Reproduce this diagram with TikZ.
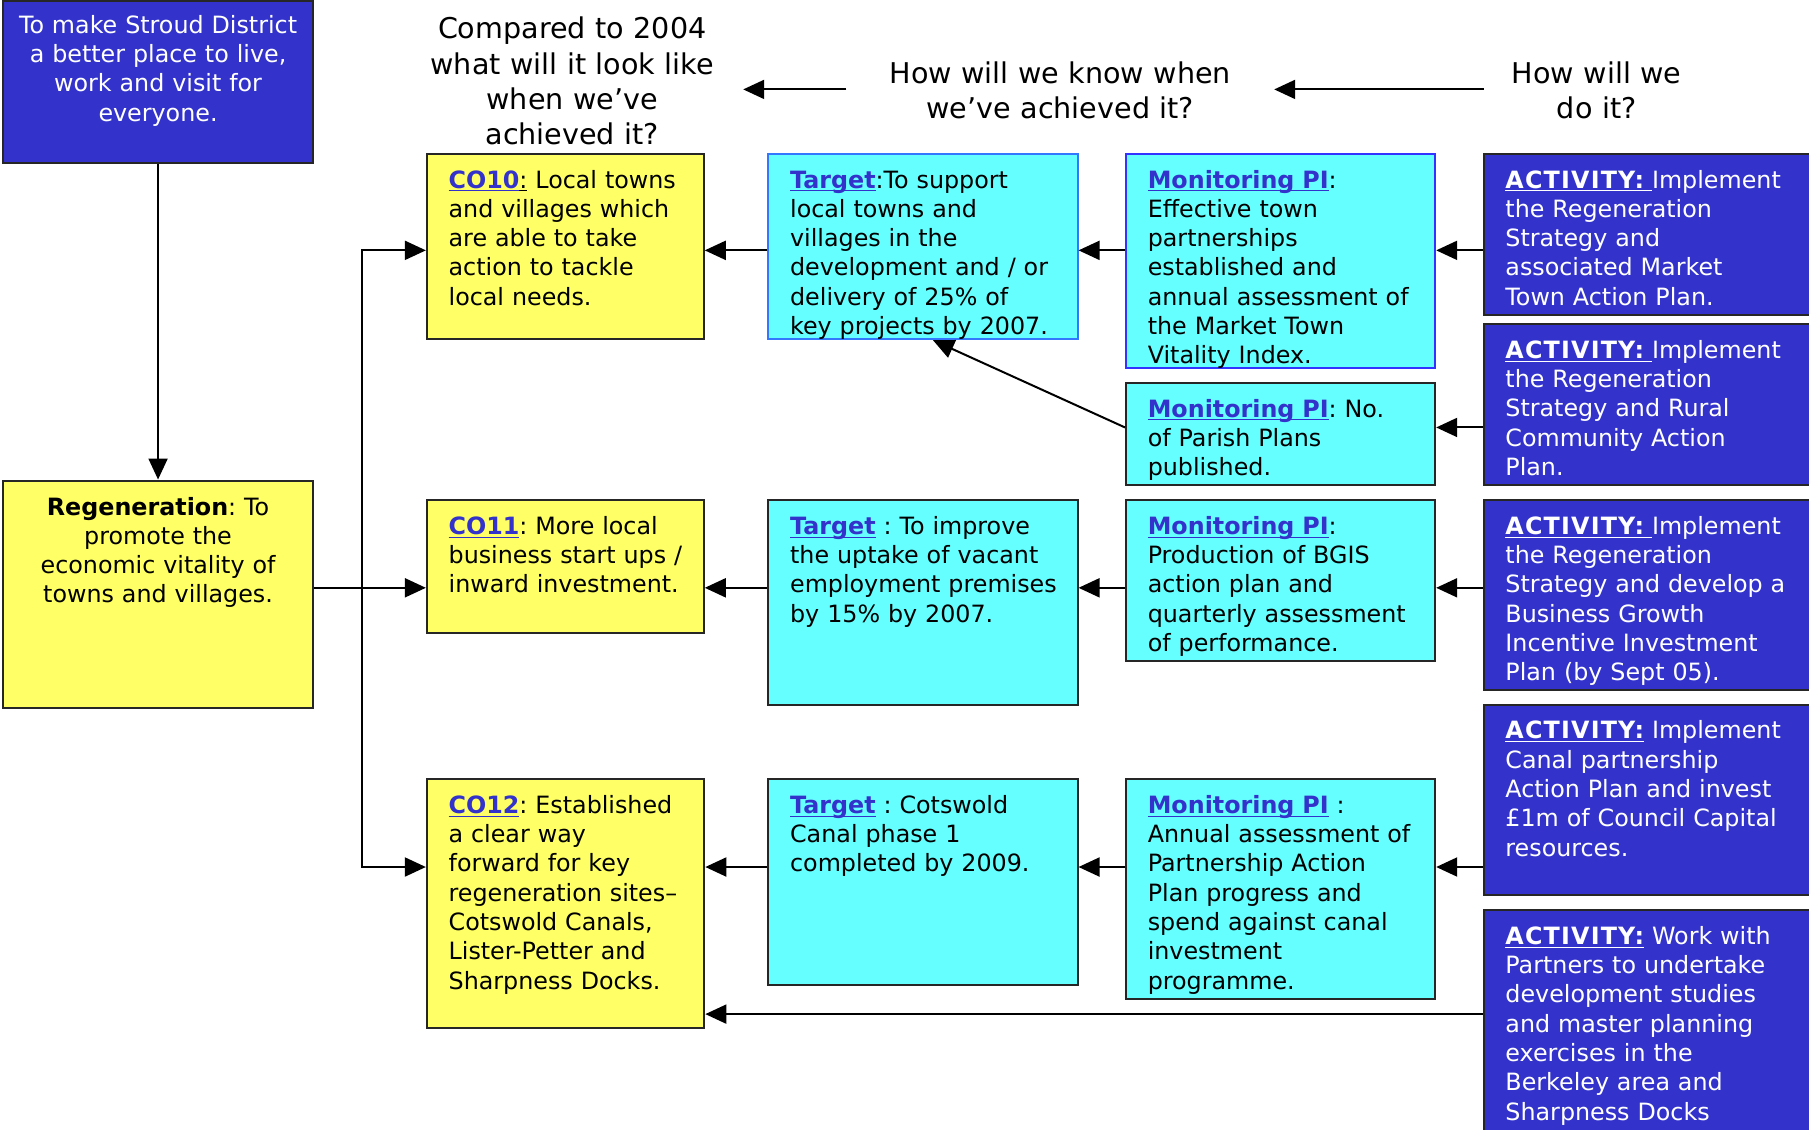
\documentclass[tikz,border=0pt]{standalone}
\usepackage{fontspec}
\setmainfont{DejaVu Sans}
\newfontfamily\actfont[LetterSpace=5]{DejaVu Sans}
\usetikzlibrary{arrows.meta, fit}
\frenchspacing

\definecolor{goalblue}{HTML}{3333CC}
\definecolor{coyellow}{HTML}{FFFF66}
\definecolor{tgtcyan}{HTML}{66FFFF}
\definecolor{lblblue}{HTML}{3333CC}
\definecolor{edgesky}{HTML}{3377FF}
\definecolor{edgeblue}{HTML}{3333FF}

\newcommand{\boxfont}{\fontsize{11.9pt}{14.65pt}\selectfont}
\newcommand{\headfont}{\fontsize{14.3pt}{17.7pt}\selectfont}
\newcommand{\lbl}[1]{\textcolor{lblblue}{\underline{\smash{\textbf{#1}}}}}
\newcommand{\act}[1]{\underline{\smash{\actfont\bfseries #1}}}

\tikzset{
  goalbox/.style={draw=black!85, fill=goalblue, inner sep=0pt},
  ybox/.style={draw=black!85, fill=coyellow, inner sep=0pt},
  cbox/.style={draw=black!85, fill=tgtcyan, inner sep=0pt},
  abox/.style={draw=black!85, fill=goalblue, inner sep=0pt},
  txt/.style={anchor=base west, align=left, text width=150pt, inner sep=0pt, font=\boxfont},
  ctxt/.style={anchor=base, align=center, text width=150pt, inner sep=0pt, font=\boxfont},
  head/.style={anchor=base, align=center, inner sep=0pt, font=\headfont},
  arr/.style={-{Triangle[length=10.5pt,width=9.5pt]}}
}

\begin{document}
\begin{tikzpicture}[x=0.5769pt, y=-0.5769pt, line width=1pt]
		\useasboundingbox (0,0) rectangle (1568,979);

		% Rows of the arrows
		\coordinate (hrow) at (0,77.5);
		\coordinate (row1) at (0,217);
		\coordinate (row1b) at (0,370.5);
		\coordinate (row2) at (0,509.5);
		\coordinate (row3) at (0,751.5);
		\coordinate (row4) at (0,879);
		\coordinate (trunk) at (313.5,0);

		% Headings
		\node[head, text width=170pt] (hcomp) at (496,33.5) {Compared to 2004\\what will it look like\\when we’ve\\achieved it?};
		\node[head, text width=213pt] (hknow) at (919,72) {How will we know when\\we’ve achieved it?};
		\node[head, text width=112pt] (hdo) at (1384,72) {How will we\\do it?};

		% Goal and theme
		\node[goalbox, fit={(3,1) (271,141)}] (goal) {};
		\node[ctxt, white] (goalt) at (137,28.9) {To make Stroud District\\a better place to live,\\work and visit for\\everyone.};
		\node[ybox, fit={(3,416.5) (271,613.5)}] (regen) {};
		\node[ctxt] (regent) at (137,446.4) {\textbf{Regeneration}: To\\promote the\\economic vitality of\\towns and villages.};

		% Row 1
		\node[ybox, fit={(370,133.5) (610,294)}] (co10) {};
		\node[txt] (co10t) at (388,163) {\lbl{CO10}\underline{\smash{:}} Local towns\\and villages which\\are able to take\\action to tackle\\local needs.};
		\node[cbox, draw=edgesky, fit={(666,133.5) (934,294)}] (tgt1) {};
		\node[txt] (tgt1t) at (684,163) {\lbl{Target}:To support\\local towns and\\villages in the\\development and / or\\delivery of 25\% of\\key projects by 2007.};
		\node[cbox, draw=edgeblue, fit={(976,133.5) (1244,319)}] (mon1) {};
		\node[txt] (mon1t) at (994,163) {\lbl{Monitoring PI}:\\Effective town\\partnerships\\established and\\annual assessment of\\the Market Town\\Vitality Index.};
		\node[cbox, fit={(976,332) (1244,420.5)}] (mon1b) {};
		\node[txt] (mon1bt) at (994,361.5) {\lbl{Monitoring PI}: No.\\of Parish Plans\\published.};
		\node[abox, fit={(1286.5,133.5) (1600,273)}] (act1) {};
		\node[txt, white] (act1t) at (1304,163) {\act{ACTIVITY: }Implement\\the Regeneration\\Strategy and\\associated Market\\Town Action Plan.};
		\node[abox, fit={(1286.5,281) (1600,420.5)}] (act2) {};
		\node[txt, white] (act2t) at (1304,310.5) {\act{ACTIVITY: }Implement\\the Regeneration\\Strategy and Rural\\Community Action\\Plan.};

		% Row 2
		\node[ybox, fit={(370,433.5) (610,548.5)}] (co11) {};
		\node[txt] (co11t) at (388,463) {\lbl{CO11}: More local\\business start ups /\\inward investment.};
		\node[cbox, fit={(666,433.5) (934,611)}] (tgt2) {};
		\node[txt] (tgt2t) at (684,463) {\lbl{Target} : To improve\\the uptake of vacant\\employment premises\\by 15\% by 2007.};
		\node[cbox, fit={(976,433.5) (1244,573)}] (mon2) {};
		\node[txt] (mon2t) at (994,463) {\lbl{Monitoring PI}:\\Production of BGIS\\action plan and\\quarterly assessment\\of performance.};
		\node[abox, fit={(1286.5,433.5) (1600,598)}] (act3) {};
		\node[txt, white] (act3t) at (1304,463) {\act{ACTIVITY: }Implement\\the Regeneration\\Strategy and develop a\\Business Growth\\Incentive Investment\\Plan (by Sept 05).};

		% Row 3
		\node[abox, fit={(1286.5,611) (1600,776)}] (act4) {};
		\node[txt, white] (act4t) at (1304,640.5) {\act{ACTIVITY:} Implement\\Canal partnership\\Action Plan and invest\\£1m of Council Capital\\resources.};
		\node[ybox, fit={(370,675.5) (610.5,891)}] (co12) {};
		\node[txt] (co12t) at (388,705) {\lbl{CO12}: Established\\a clear way\\forward for key\\regeneration sites–\\Cotswold Canals,\\Lister-Petter and\\Sharpness Docks.};
		\node[cbox, fit={(666,675.5) (934,853.5)}] (tgt3) {};
		\node[txt] (tgt3t) at (684,705) {\lbl{Target} : Cotswold\\Canal phase 1\\completed by 2009.};
		\node[cbox, fit={(976,675.5) (1244,865.5)}] (mon3) {};
		\node[txt] (mon3t) at (994,705) {\lbl{Monitoring PI} :\\Annual assessment of\\Partnership Action\\Plan progress and\\spend against canal\\investment\\programme.};
		\node[abox, fit={(1286.5,789) (1600,1000)}] (act5) {};
		\node[txt, white] (act5t) at (1304,818.5) {\act{ACTIVITY:} Work with\\Partners to undertake\\development studies\\and master planning\\exercises in the\\Berkeley area and\\Sharpness Docks};

		% Heading arrows
		\draw[arr] (hknow.west |- hrow) -- (hcomp.east |- hrow);
		\draw[arr] (hdo.west |- hrow) -- (hknow.east |- hrow);

		% Goal to theme to outcomes
		\draw[arr] (goal.south) -- (regen.north);
		\draw[arr] (regen.east |- row2) -- (co11.west |- row2);
		\draw[arr] (trunk |- row2) |- (co10.west |- row1);
		\draw[arr] (trunk |- row2) |- (co12.west |- row3);

		% Activities to PIs to targets to outcomes
		\draw[arr] (act1.west |- row1) -- (mon1.east |- row1);
		\draw[arr] (mon1.west |- row1) -- (tgt1.east |- row1);
		\draw[arr] (tgt1.west |- row1) -- (co10.east |- row1);
		\draw[arr] (act2.west |- row1b) -- (mon1b.east |- row1b);
		\draw[arr] (mon1b.west |- row1b) -- ([xshift=5pt]tgt1.south);
		\draw[arr] (act3.west |- row2) -- (mon2.east |- row2);
		\draw[arr] (mon2.west |- row2) -- (tgt2.east |- row2);
		\draw[arr] (tgt2.west |- row2) -- (co11.east |- row2);
		\draw[arr] (act4.west |- row3) -- (mon3.east |- row3);
		\draw[arr] (mon3.west |- row3) -- (tgt3.east |- row3);
		\draw[arr] (tgt3.west |- row3) -- (co12.east |- row3);
		\draw[arr] (act5.west |- row4) -- (co12.east |- row4);
	\end{tikzpicture}
\end{document}
